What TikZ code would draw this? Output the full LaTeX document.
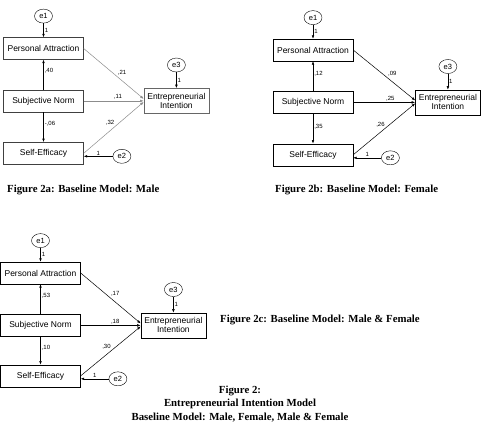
\documentclass[tikz,border=0pt]{standalone}
\usepackage{fontspec}
\setmainfont{Liberation Serif}
\setsansfont{Liberation Sans}
\usetikzlibrary{positioning}
\usetikzlibrary{shapes.geometric}
\usetikzlibrary{arrows.meta}

\begin{document}
\begin{tikzpicture}[
        x=1pt, y=-1pt,
        node distance=30pt,
        var/.style={rectangle, draw, minimum width=80pt, minimum height=22pt, inner sep=1pt, font=\sffamily\fontsize{8.5}{10}\selectfont},
        outcome/.style={rectangle, draw, minimum width=65pt, minimum height=25pt, inner sep=1pt, align=center, font=\sffamily\fontsize{8.5}{9}\selectfont},
        err/.style={ellipse, draw, minimum width=18pt, minimum height=14pt, inner sep=0pt, font=\sffamily\fontsize{7.5}{8}\selectfont},
        link/.style={-{Latex[length=3.5pt,width=2.6pt]}, line width=0.5pt},
        faint/.style={link, draw=black!45},
        coef/.style={inner sep=1pt, font=\sffamily\fontsize{6}{7}\selectfont},
        caption/.style={anchor=west, inner sep=0pt, font=\bfseries\fontsize{10.8}{12}\selectfont}
    ]
        \useasboundingbox (0,0) rectangle (486,440);

        % Figure 2a: male
        \node[var, draw=black!75] (attra) at (43.5,48.5) {Personal Attraction};
        \node[var, draw=black!75, below=of attra] (norma) {Subjective Norm};
        \node[var, draw=black!75, below=of norma] (effa) {Self-Efficacy};
        \node[outcome, draw=black!60, right=60pt of norma] (inta) {Entrepreneurial\\Intention};
        \node[err, above=14pt of attra] (e1a) {e1};
        \node[err, above=16pt of inta] (e3a) {e3};
        \node[err, right=29pt of effa, yshift=-3pt] (e2a) {e2};

        \draw[link] (e1a) -- node[coef, right] {1} (attra);
        \draw[link] (e3a) -- node[coef, right] {1} (inta);
        \draw[link] (e2a.west) -- node[coef, above] {1} (e2a.west -| effa.east);
        \draw[link] (norma) -- node[coef, pos=0.62, right] {,40} (attra);
        \draw[link] (norma) -- node[coef, pos=0.38, right] {-,06} (effa);
        \draw[faint] (attra.east) -- node[coef, pos=0.64, above=4pt] {,21} ([yshift=2pt]inta.west);
        \draw[faint] (norma) -- node[coef, pos=0.57, above] {,11} (inta);
        \draw[faint] (effa.east) -- node[coef, pos=0.44, above=4pt] {,32} ([yshift=-1pt]inta.west);

        \node[caption] (capa) at (7,190) {Figure 2a: Baseline Model: Male};

        % Figure 2b: female
        \node[var] (attrb) at (313,50) {Personal Attraction};
        \node[var, below=of attrb] (normb) {Subjective Norm};
        \node[var, below=of normb] (effb) {Self-Efficacy};
        \node[outcome, right=62pt of normb] (intb) {Entrepreneurial\\Intention};
        \node[err, above=14pt of attrb] (e1b) {e1};
        \node[err, above=16pt of intb] (e3b) {e3};
        \node[err, right=28pt of effb, yshift=-3pt] (e2b) {e2};

        \draw[link] (e1b) -- node[coef, right] {1} (attrb);
        \draw[link] (e3b) -- node[coef, right] {1} (intb);
        \draw[link] (e2b.west) -- node[coef, above] {1} (e2b.west -| effb.east);
        \draw[link] (normb) -- node[coef, pos=0.57, right] {,12} (attrb);
        \draw[link] (normb) -- node[coef, pos=0.43, right] {,35} (effb);
        \draw[link] (attrb.east) -- node[coef, pos=0.63, above=4pt] {,09} ([yshift=2pt]intb.west);
        \draw[link] (normb) -- node[coef, pos=0.6, above] {,25} (intb);
        \draw[link] (effb.east) -- node[coef, pos=0.44, above=4pt] {,26} ([yshift=-1pt]intb.west);

        \node[caption] (capb) at (275,190) {Figure 2b: Baseline Model: Female};

        % Figure 2c: male & female
        \node[var] (attrc) at (40.5,273) {Personal Attraction};
        \node[var, below=of attrc] (normc) {Subjective Norm};
        \node[var, below=28pt of normc] (effc) {Self-Efficacy};
        \node[outcome, right=60pt of normc] (intc) {Entrepreneurial\\Intention};
        \node[err, above=14pt of attrc] (e1c) {e1};
        \node[err, above=16pt of intc] (e3c) {e3};
        \node[err, right=28pt of effc, yshift=-3pt] (e2c) {e2};

        \draw[link] (e1c) -- node[coef, right] {1} (attrc);
        \draw[link] (e3c) -- node[coef, right] {1} (intc);
        \draw[link] (e2c.west) -- node[coef, above] {1} (e2c.west -| effc.east);
        \draw[link] (normc) -- node[coef, pos=0.6, right] {,53} (attrc);
        \draw[link] (normc) -- node[coef, pos=0.39, right] {,10} (effc);
        \draw[link] (attrc.east) -- node[coef, pos=0.575, above=4pt] {,17} ([yshift=2pt]intc.west);
        \draw[link] (normc) -- node[coef, pos=0.575, above] {,18} (intc);
        \draw[link] (effc.east) -- node[coef, pos=0.43, above=4pt] {,30} ([yshift=-1pt]intc.west);

        \node[caption] (capc) at (220,320) {Figure 2c: Baseline Model: Male \& Female};

        % overall caption
        \node[align=center, inner sep=0pt, font=\bfseries\fontsize{10.8}{13.5}\selectfont] (capall) at (240,404)
            {Figure 2:\\Entrepreneurial Intention Model\\Baseline Model: Male, Female, Male \& Female};
    \end{tikzpicture}
\end{document}
